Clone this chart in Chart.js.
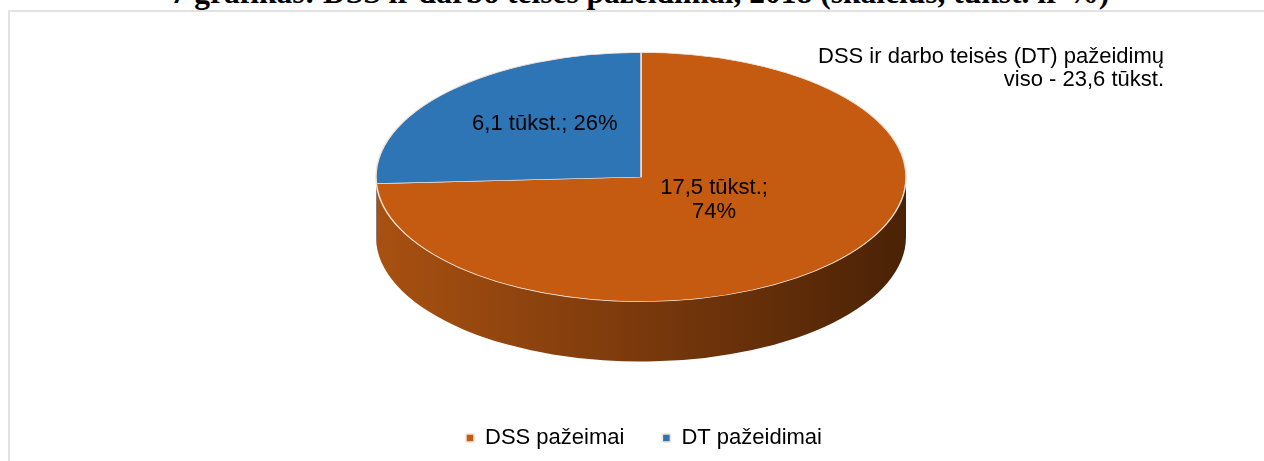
<!DOCTYPE html>
<html>
<head>
<meta charset="utf-8">
<script src="https://cdn.jsdelivr.net/npm/chart.js@4.4.0/dist/chart.umd.min.js"></script>
<style>
  html, body { margin: 0; padding: 0; background: #fff; overflow: hidden; width: 1264px; height: 461px; }
  #title {
    position: absolute; left: 0; width: 1280px; top: -23px;
    font: bold 31.5px "Liberation Serif", "Times New Roman", serif;
    line-height: 31px; text-align: center; color: #000; white-space: nowrap;
  }
  #box {
    position: absolute; left: 8px; top: 10px; width: 1300px; height: 500px;
    border: 2px solid #e2e2e2; box-sizing: border-box;
  }
  #pieChart { position: absolute; left: 0; top: 0; }
</style>
</head>
<body>
<div id="title">7 grafikas: DSS ir darbo teisės pažeidimai, 2018 (skaičius, tūkst. ir %)</div>
<div id="box"></div>
<canvas id="pieChart" width="1264" height="459"></canvas>
<script>
var categories = ['DSS pažeimai', 'DT pažeidimai'];
var values = [17.5, 6.1];            // tūkst.
var sliceColors = ['#c55a11', '#2e75b6'];
var wallColors = [['#a85111', '#7a390c', '#4a2206'], ['#245c8f', '#1c4a73', '#12304b']];

// where the tilted pie sits on the page
var CX = 641, CY = 177, TILT = 0.47, DEPTH = 60;
var labelFrac = [0.38, 0.5];
var LABEL_DY = -10;

var total = values.reduce(function (a, b) { return a + b; }, 0);
var fmt = function (v) { return v.toFixed(1).replace('.', ','); };

var pie3d = {
  id: 'pie3d',
  beforeDatasetsDraw: function (chart) {
    var ctx = chart.ctx;
    var arcs = chart.getDatasetMeta(0).data;
    var R = arcs[0].outerRadius, RY = R * TILT;

    // side wall (only the front half is visible)
    arcs.forEach(function (arc, i) {
      for (var k = -1; k <= 1; k++) {
        var a = Math.max(arc.startAngle + 2 * Math.PI * k, 0);
        var b = Math.min(arc.endAngle + 2 * Math.PI * k, Math.PI);
        if (b <= a) continue;
        var g = ctx.createLinearGradient(CX - R, 0, CX + R, 0);
        g.addColorStop(0, wallColors[i][0]);
        g.addColorStop(0.5, wallColors[i][1]);
        g.addColorStop(1, wallColors[i][2]);
        ctx.beginPath();
        ctx.ellipse(CX, CY, R, RY, 0, a, b);
        ctx.ellipse(CX, CY + DEPTH, R, RY, 0, b, a, true);
        ctx.closePath();
        ctx.fillStyle = g;
        ctx.fill();
      }
    });

    // squash the library's arcs into the top face
    ctx.save();
    ctx.translate(CX, CY);
    ctx.scale(1, TILT);
    ctx.translate(-arcs[0].x, -arcs[0].y);
  },
  afterDatasetsDraw: function (chart) {
    var ctx = chart.ctx;
    ctx.restore();
    var arcs = chart.getDatasetMeta(0).data;
    var R = arcs[0].outerRadius;

    ctx.save();
    ctx.fillStyle = '#000';
    ctx.font = '22px "Liberation Sans", Arial, sans-serif';
    ctx.textAlign = 'center';
    ctx.textBaseline = 'middle';
    arcs.forEach(function (arc, i) {
      var mid = (arc.startAngle + arc.endAngle) / 2;
      var x = CX + Math.cos(mid) * R * labelFrac[i];
      var y = CY + Math.sin(mid) * R * TILT * labelFrac[i] + LABEL_DY;
      var pct = Math.round(values[i] / total * 100) + '%';
      var first = fmt(values[i]) + ' tūkst.;';
      if (i === 0) {
        ctx.fillText(first, x, y - 12);
        ctx.fillText(pct, x, y + 12);
      } else {
        ctx.fillText(first + ' ' + pct, x, y);
      }
    });

    // note in the top right corner
    ctx.textAlign = 'right';
    ctx.fillText('DSS ir darbo teisės (DT) pažeidimų', 1164, 57);
    ctx.fillText('viso - ' + fmt(total) + ' tūkst.', 1164, 80);
    ctx.restore();
  }
};

var chart = new Chart(document.getElementById('pieChart').getContext('2d'), {
    type: 'pie',
    data: {
        labels: categories,
        datasets: [{
            data: values,
            backgroundColor: sliceColors,
            borderColor: '#f3e2d6',
            borderWidth: 1.5
        }]
    },
    options: {
        responsive: false,
        animation: false,
        radius: 265,
        layout: { padding: { left: 24 } },
        plugins: {
            tooltip: { enabled: false },
            legend: {
                position: 'bottom',
                labels: {
                    boxWidth: 8,
                    boxHeight: 8,
                    padding: 38,
                    color: '#000',
                    font: { family: '"Liberation Sans", Arial, sans-serif', size: 22 }
                }
            }
        }
    },
    plugins: [pie3d]
});
</script>
</body>
</html>
